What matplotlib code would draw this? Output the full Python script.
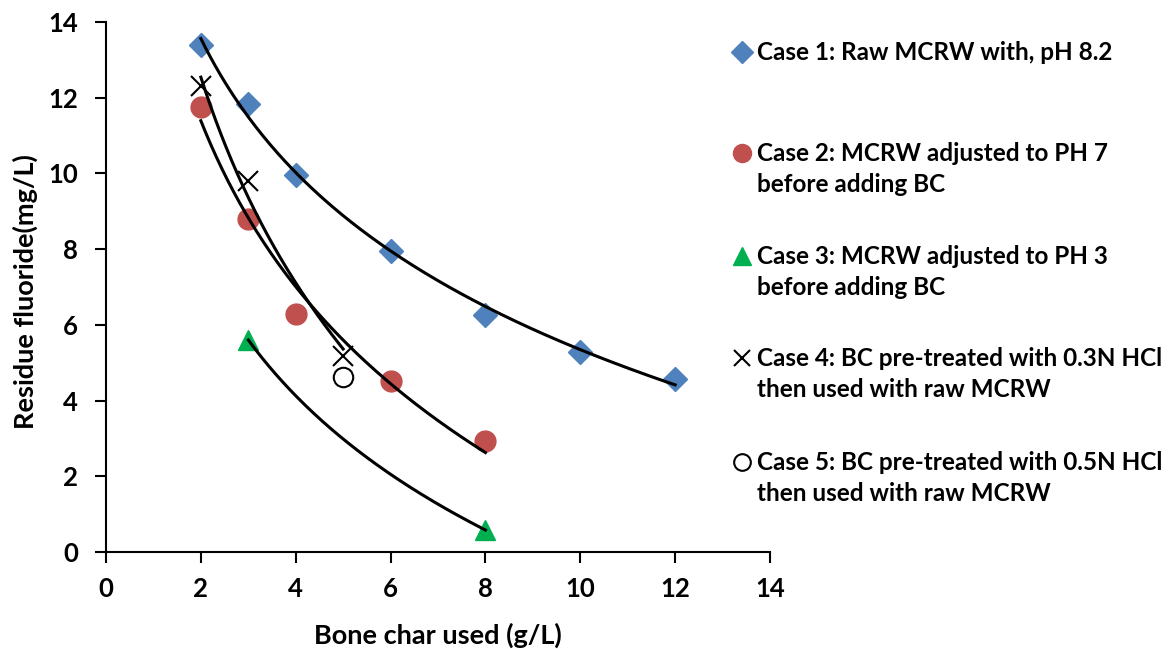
import numpy as np
import matplotlib
matplotlib.use("Agg")
import matplotlib.pyplot as plt
from matplotlib.lines import Line2D

plt.rcParams['font.family'] = ['Lato', 'DejaVu Sans']
plt.rcParams['font.weight'] = 'bold'

# ---- data ----
case1_x = [2, 3, 4, 6, 8, 10, 12]
case1_y = [13.4, 11.83, 9.95, 7.96, 6.27, 5.29, 4.58]
case2_x = [2, 3, 4, 6, 8]
case2_y = [11.75, 8.8, 6.3, 4.52, 2.93]
case3_x = [3, 8]
case3_y = [5.6, 0.58]
case4_x = [2, 3, 5]
case4_y = [12.3, 9.8, 5.17]
case5_x = [5]
case5_y = [4.62]

labels = [
    "Case 1: Raw MCRW with, pH 8.2",
    "Case 2: MCRW adjusted to PH 7\nbefore adding BC",
    "Case 3: MCRW adjusted to PH 3\nbefore adding BC",
    "Case 4: BC pre-treated with 0.3N HCl\nthen used with raw MCRW",
    "Case 5: BC pre-treated with 0.5N HCl\nthen used with raw MCRW",
]
xticks = [0, 2, 4, 6, 8, 10, 12, 14]
yticks = [0, 2, 4, 6, 8, 10, 12, 14]

W, H = 1170, 649
fig = plt.figure(figsize=(W / 100, H / 100), dpi=100)
ax = fig.add_axes([106 / W, 1 - 552 / H, (770 - 106) / W, (552 - 22) / H])

blue = '#4F81BD'
red = '#C0504D'
green = '#00B050'

def logfit(xs, ys):
    xs = np.asarray(xs, float)
    ys = np.asarray(ys, float)
    a, b = np.polyfit(np.log(xs), ys, 1)
    xx = np.linspace(xs.min(), xs.max(), 200)
    return xx, a * np.log(xx) + b

ax.plot(case1_x, case1_y, ls='none', marker='D', ms=12, color=blue, zorder=2, clip_on=False)
ax.plot(case2_x, case2_y, ls='none', marker='o', ms=15, color=red, zorder=2, clip_on=False)
ax.plot(case3_x, case3_y, ls='none', marker='^', ms=15, color=green, zorder=2, clip_on=False)
ax.plot(case4_x, case4_y, ls='none', marker='x', ms=14, mew=1.5, color='black', zorder=2)
ax.plot(case5_x, case5_y, ls='none', marker='o', ms=14, mfc='white', mec='black', mew=1.5, zorder=2)

for xs, ys in [(case1_x, case1_y), (case2_x, case2_y), (case3_x, case3_y), (case4_x, case4_y)]:
    xx, yy = logfit(xs, ys)
    ax.plot(xx, yy, color='black', lw=2.2, zorder=3)

ax.set_xlim(0, 14)
ax.set_ylim(0, 14)
ax.set_xticks(xticks)
ax.set_yticks(yticks)
ax.spines['top'].set_visible(False)
ax.spines['right'].set_visible(False)
for s in ['left', 'bottom']:
    ax.spines[s].set_linewidth(1.5)
ax.tick_params(direction='out', length=8, width=1.5, labelsize=18.5)
ax.tick_params(axis='x', pad=10)
ax.tick_params(axis='y', pad=12)
for lab in ax.get_xticklabels() + ax.get_yticklabels():
    lab.set_fontweight('bold')
ax.set_xlabel('Bone char used (g/L)', fontsize=19.5, fontweight='bold', va='center')
ax.set_ylabel('Residue fluoride(mg/L)', fontsize=19.5, fontweight='bold', va='center')
ax.xaxis.set_label_coords((438 - 106) / 664, -(635 - 552) / 530)
ax.yaxis.set_label_coords((25 - 106) / 664, (552 - 292) / 530)

# ---- legend (manual, Excel-style) ----
entry_y = [52, 153, 256, 358, 462]
styles = [
    dict(marker='D', ms=11, color=blue),
    dict(marker='o', ms=13, color=red),
    dict(marker='^', ms=13, color=green),
    dict(marker='x', ms=11, mew=1.5, color='black'),
    dict(marker='o', ms=12, mfc='white', mec='black', mew=1.5),
]
for y, lab, st in zip(entry_y, labels, styles):
    fig.add_artist(Line2D([742 / W], [1 - y / H], transform=fig.transFigure, ls='none', **st))
    fig.text(757 / W, 1 - (y - 11) / H, lab, fontsize=17.5, fontweight='bold',
             va='top', ha='left', linespacing=1.42)

fig.savefig('out.png', dpi=100)
